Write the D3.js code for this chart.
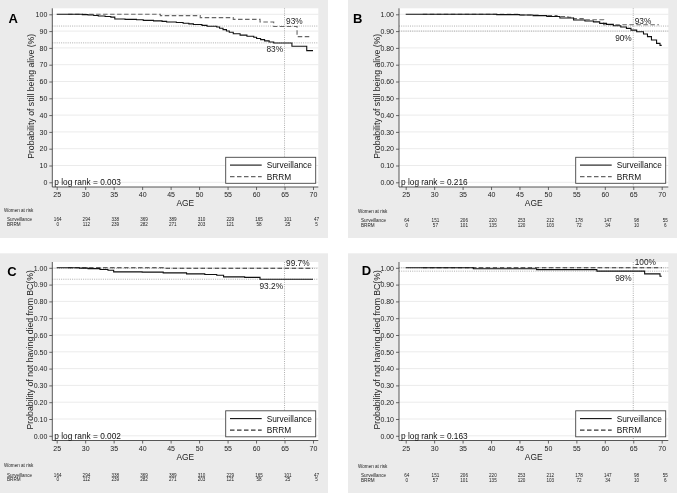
<!DOCTYPE html>
<html><head><meta charset="utf-8">
<script src="https://cdn.jsdelivr.net/npm/d3@7/dist/d3.min.js"></script>
<style>body{margin:0;background:#fff}svg{display:block;font-family:"Liberation Sans",Arial,sans-serif;will-change:transform;-webkit-font-smoothing:antialiased}</style>
</head><body><svg id="c" width="677" height="493"></svg>
<script>
// ---------- DATA ----------
const ageTicks = [25,30,35,40,45,50,55,60,65,70];
const riskSurvAC = [164,294,338,369,389,310,229,165,101,47];
const riskBrrmAC = [0,112,239,282,271,203,121,58,25,5];
const riskSurvBD = [64,151,206,220,253,212,178,147,98,55];
const riskBrrmBD = [0,57,101,135,120,103,72,34,10,6];
const yTicksPct = [0,10,20,30,40,50,60,70,80,90,100];
const yTicksProb = [0,0.1,0.2,0.3,0.4,0.5,0.6,0.7,0.8,0.9,1.0];

const survA = [[25,100],[29.5,99.8],[30.5,99.6],[31.5,99.3],[32.3,99.0],[33.5,98.7],[34.5,98.3],[35.2,97.2],[37,97.0],[39,96.8],[40.2,96.4],[42,96.1],[43.5,95.8],[44.3,95.4],[46,95.1],[47.2,94.7],[48.2,94.3],[49,93.9],[50.5,93.4],[51.4,92.9],[53.1,92.4],[53.6,91.7],[54.2,90.9],[54.8,90.1],[55.3,89.3],[56,88.4],[57.2,87.6],[58.4,86.9],[59.6,86.3],[60.1,85.6],[60.8,84.9],[61.5,84.2],[62.3,83.5],[63.1,82.9],[66.3,81.0],[68.9,78.4],[70,78.4]];
const brrmA = [[27,100],[43.2,99.2],[50.2,98.0],[56,97.0],[60.7,95.4],[63.1,92.7],[67.2,86.7],[69.5,86.7]];
const survB = [[25,1],[41,0.998],[45,0.996],[47.4,0.992],[49.8,0.987],[52.1,0.978],[54.5,0.966],[56.5,0.960],[58,0.955],[59.1,0.946],[60.3,0.940],[61.5,0.932],[62.8,0.924],[63.8,0.916],[64.6,0.906],[65.6,0.896],[66.8,0.883],[67.5,0.867],[68.2,0.847],[69.1,0.827],[69.7,0.815],[70,0.815]];
const brrmB = [[28,1],[45,0.996],[48.6,0.993],[51.6,0.987],[53.5,0.982],[54.5,0.974],[56.2,0.968],[59.8,0.938],[69.5,0.938]];
const survC = [[25,1],[29,0.998],[30.5,0.995],[32.6,0.990],[34,0.985],[35,0.976],[40,0.974],[43.7,0.970],[47.8,0.964],[51,0.960],[53.1,0.956],[54.3,0.946],[58,0.943],[60.7,0.932],[70,0.932]];
const brrmC = [[27,1],[43.7,0.997],[70,0.997]];
const survD = [[25,1],[36.9,0.994],[48,0.989],[58.6,0.980],[67,0.964],[69.7,0.950],[70,0.950]];
const brrmD = [[28,1],[70,1]];

const refA = {h:[93,83], up:"93%", low:"83%", p:"p log rank = 0.003"};
const refB = {h:[0.93,0.90], up:"93%", low:"90%", p:"p log rank = 0.216"};
const refC = {h:[0.997,0.932], up:"99.7%", low:"93.2%", p:"p log rank = 0.002"};
const refD = {h:[1.00,0.98], up:"100%", low:"98%", p:"p log rank = 0.163"};
const titleTop = "Probability of still being alive (%)";
const titleBottom = "Probability of not having died from BC(%)";
const seriesNames = ["Surveillance","BRRM"];

// ---------- LAYOUT ----------
const panels = [
 {id:"A", bg:[0,0,328,238], axisX:52.3, x25:56.7, x70:313, right:318.3, top:8.3, y0:182.3, y1:14.3, bottom:187, letter:[8.5,22.7], titleX:33.5, tableX:4, tableY:211.7,
  pct:true, surv:survA, brrm:brrmA, ref:refA, title:titleTop, rs:riskSurvAC, rb:riskBrrmAC, dashCol:"#666"},
 {id:"B", bg:[348,0,329,238], axisX:399, x25:405.7, x70:661.7, right:668.3, top:8.3, y0:182.3, y1:14.3, bottom:187, letter:[353,22.7], titleX:380, tableX:358, tableY:213,
  pct:false, surv:survB, brrm:brrmB, ref:refB, title:titleTop, rs:riskSurvBD, rb:riskBrrmBD, dashCol:"#666"},
 {id:"C", bg:[0,253.3,328,239.7], axisX:52.3, x25:56.7, x70:313, right:318.3, top:262, y0:435.8, y1:267.8, bottom:440.5, letter:[7.3,276], titleX:32.5, tableX:4, tableY:467.3,
  pct:false, surv:survC, brrm:brrmC, ref:refC, title:titleBottom, rs:riskSurvAC, rb:riskBrrmAC, dashCol:"#333"},
 {id:"D", bg:[348,253.3,329,239.7], axisX:399, x25:405.7, x70:661.7, right:668.3, top:262, y0:435.8, y1:267.8, bottom:440.5, letter:[361.7,275], titleX:380, tableX:358, tableY:468,
  pct:false, surv:survD, brrm:brrmD, ref:refD, title:titleBottom, rs:riskSurvBD, rb:riskBrrmBD, dashCol:"#333"}
];

const svg = d3.select("#c");
const dashPattern = "4.5,2.5";

panels.forEach(p => {
  const g = svg.append("g");
  const [bx,by,bw,bh] = p.bg;
  g.append("rect").attr("x",bx).attr("y",by).attr("width",bw).attr("height",bh).attr("fill","#ebebeb");
  g.append("rect").attr("x",p.axisX).attr("y",p.top).attr("width",p.right-p.axisX).attr("height",p.bottom-p.top).attr("fill","#fff");

  const x = d3.scaleLinear().domain([25,70]).range([p.x25,p.x70]);
  const ymax = p.pct ? 100 : 1;
  const y = d3.scaleLinear().domain([0,ymax]).range([p.y0,p.y1]);
  const yt = p.pct ? yTicksPct : yTicksProb;
  const fmt = p.pct ? d3.format("d") : d3.format(".2f");

  // gridlines
  g.append("g").selectAll("line").data(yt).join("line")
    .attr("x1",p.axisX).attr("x2",p.right).attr("y1",d=>y(d)).attr("y2",d=>y(d))
    .attr("stroke","#e6e6e6").attr("stroke-width",0.8);

  // reference dotted lines
  g.append("g").selectAll("line").data(p.ref.h).join("line")
    .attr("x1",p.axisX).attr("x2",p.right).attr("y1",d=>y(d)).attr("y2",d=>y(d))
    .attr("stroke","#9a9a9a").attr("stroke-width",0.8).attr("stroke-dasharray","1,1.2");
  g.append("line").attr("x1",x(65)).attr("x2",x(65)).attr("y1",p.top).attr("y2",p.bottom)
    .attr("stroke","#9a9a9a").attr("stroke-width",0.8).attr("stroke-dasharray","1,1.2");

  // axes
  const ya = d3.axisLeft(y).tickValues(yt).tickFormat(fmt).tickSize(3).tickPadding(2);
  const yg = g.append("g").attr("transform",`translate(${p.axisX},0)`).call(ya);
  const xa = d3.axisBottom(x).tickValues(ageTicks).tickFormat(d3.format("d")).tickSize(3).tickPadding(2.5);
  const xg = g.append("g").attr("transform",`translate(0,${p.bottom})`).call(xa);
  [yg,xg].forEach(a=>{
    a.select(".domain").remove();
    a.selectAll("line").attr("stroke","#444").attr("stroke-width",0.8);
    a.selectAll("text").attr("fill","#222").style("font-size","7px").style("font-family","'Liberation Sans',Arial,sans-serif");
  });
  g.append("line").attr("x1",p.axisX).attr("x2",p.axisX).attr("y1",p.top).attr("y2",p.bottom).attr("stroke","#444").attr("stroke-width",0.9);
  g.append("line").attr("x1",p.axisX).attr("x2",p.right).attr("y1",p.bottom).attr("y2",p.bottom).attr("stroke","#444").attr("stroke-width",0.9);

  // curves
  const line = d3.line().x(d=>x(d[0])).y(d=>y(d[1])).curve(d3.curveStepAfter);
  g.append("path").datum(p.brrm).attr("d",line).attr("fill","none").attr("stroke",p.dashCol).attr("stroke-width",1.1).attr("stroke-dasharray",dashPattern);
  g.append("path").datum(p.surv).attr("d",line).attr("fill","none").attr("stroke","#111").attr("stroke-width",1.1);

  // percentage labels
  g.append("text").attr("x",x(65)+1.5).attr("y",y(p.ref.h[0])-2.5).text(p.ref.up)
    .style("font-size","8.3px").attr("fill","#222");
  g.append("text").attr("x",x(65)-1.5).attr("y",y(p.ref.h[1])+9.5).attr("text-anchor","end").text(p.ref.low)
    .style("font-size","8.3px").attr("fill","#222");

  // p log rank
  g.append("text").attr("x",p.axisX+2).attr("y",p.y0+3).text(p.ref.p).style("font-size","8.3px").attr("fill","#111");

  // legend
  const lw = 90, lh = 26, lx = p.right-2.6-lw, ly = p.bottom-29.7;
  g.append("rect").attr("x",lx).attr("y",ly).attr("width",lw).attr("height",lh).attr("fill","#fff").attr("stroke","#444").attr("stroke-width",0.9);
  seriesNames.forEach((s,i)=>{
    const yy = ly + 7.8 + i*11.5;
    g.append("line").attr("x1",lx+4.3).attr("x2",lx+36).attr("y1",yy).attr("y2",yy)
      .attr("stroke", i===0 ? "#111" : p.dashCol).attr("stroke-width",1.1)
      .attr("stroke-dasharray", i===0 ? null : dashPattern);
    g.append("text").attr("x",lx+41).attr("y",yy+3).text(s).style("font-size","8.3px").attr("fill","#111");
  });

  // titles
  g.append("text").attr("x",p.letter[0]).attr("y",p.letter[1]).text(p.id)
    .style("font-size","13px").style("font-weight","bold").attr("fill","#000");
  g.append("text").attr("transform",`translate(${p.titleX},${(p.y0+p.y1)/2 - 2}) rotate(-90)`)
    .attr("text-anchor","middle").text(p.title).style("font-size","8.7px").attr("fill","#222");
  g.append("text").attr("x",(p.axisX+p.right)/2).attr("y",p.bottom+19.2).attr("text-anchor","middle")
    .text("AGE").style("font-size","8.4px").attr("fill","#222");

  // risk table
  const xr = d3.scaleLinear().domain([25,70]).range([p.x25+1,p.x70+3.5]);
  g.append("text").attr("x",p.tableX).attr("y",p.tableY).text("Women at risk").style("font-size","4.6px").attr("fill","#222");
  [[seriesNames[0],p.rs],[seriesNames[1],p.rb]].forEach(([name,vals],i)=>{
    const yy = p.tableY + 9.2 + i*4.6;
    g.append("text").attr("x",p.tableX+3).attr("y",yy).text(name).style("font-size","4.6px").attr("fill","#222");
    g.append("g").selectAll("text").data(vals).join("text")
      .attr("x",(d,j)=>xr(ageTicks[j])).attr("y",yy).attr("text-anchor","middle")
      .text(d=>d).style("font-size","4.6px").attr("fill","#222");
  });
});
</script></body></html>
